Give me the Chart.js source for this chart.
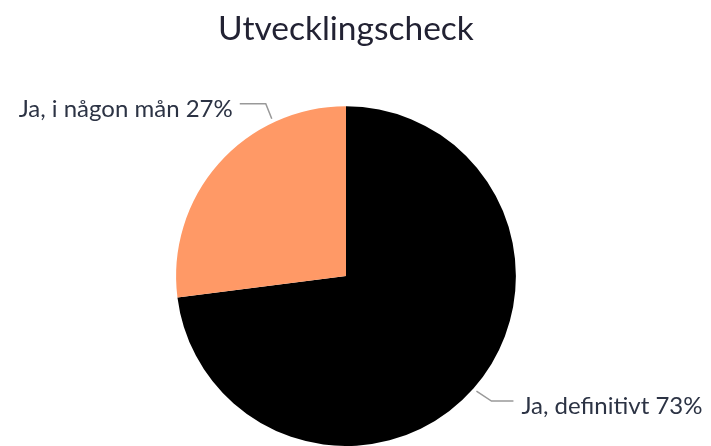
<!DOCTYPE html>
<html>
<head>
<meta charset="utf-8">
<script src="https://cdn.jsdelivr.net/npm/chart.js@4"></script>
<style>
  html, body { margin: 0; padding: 0; background: #fff; }
  #wrap { width: 711px; height: 446px; }
</style>
</head>
<body>
<div id="wrap"><canvas id="pieChart" width="711" height="446"></canvas></div>
<script>
const categories = ["Ja, definitivt", "Ja, i någon mån"];
const values = [73, 27];
const sliceColors = ["#000000", "#FF9966"];
const chartTitle = "Utvecklingscheck";

// leader lines + labels drawn next to each slice
const sliceLabels = {
    id: "sliceLabels",
    afterDatasetsDraw(chart) {
        const ctx = chart.ctx;
        const meta = chart.getDatasetMeta(0);
        ctx.save();
        ctx.font = "24px Lato";
        ctx.fillStyle = "#2c3344";
        ctx.strokeStyle = "#999999";
        ctx.lineWidth = 1.5;
        ctx.textBaseline = "middle";
        meta.data.forEach((arc, i) => {
            const text = categories[i] + " " + values[i] + "%";
            // black label sits on the middle, the small one is pushed toward the top
            const frac = i === 0 ? 0.5 : 0.74;
            const a = arc.startAngle + (arc.endAngle - arc.startAngle) * frac;
            const r = arc.outerRadius + 4;
            const px = arc.x + Math.cos(a) * r;
            const py = arc.y + Math.sin(a) * r;
            const right = Math.cos(a) > 0;
            let ex, ey, hx;
            if (right) {
                ex = px + 15; ey = py + 10; hx = ex + 22;
            } else {
                ex = px - 6; ey = py - 15; hx = ex - 26;
            }
            ctx.beginPath();
            ctx.moveTo(px, py);
            ctx.lineTo(ex, ey);
            ctx.lineTo(hx, ey);
            ctx.stroke();
            ctx.textAlign = right ? "left" : "right";
            ctx.fillText(text, right ? hx + 8 : hx - 7, ey + 5);
        });
        ctx.restore();
    }
};

const ctx = document.getElementById("pieChart").getContext("2d");

new Chart(ctx, {
    type: "pie",
    data: {
        labels: categories,
        datasets: [{
            data: values,
            backgroundColor: sliceColors,
            borderWidth: 0
        }]
    },
    options: {
        responsive: false,
        animation: false,
        layout: {
            padding: { top: 0, bottom: 0, left: 0, right: 19 }
        },
        plugins: {
            legend: { display: false },
            tooltip: { enabled: false },
            title: {
                display: true,
                text: chartTitle,
                color: "#222233",
                font: { family: "Lato", size: 33.5, weight: "normal" },
                padding: { top: 9, bottom: 57 }
            }
        }
    },
    plugins: [sliceLabels]
});
</script>
</body>
</html>
